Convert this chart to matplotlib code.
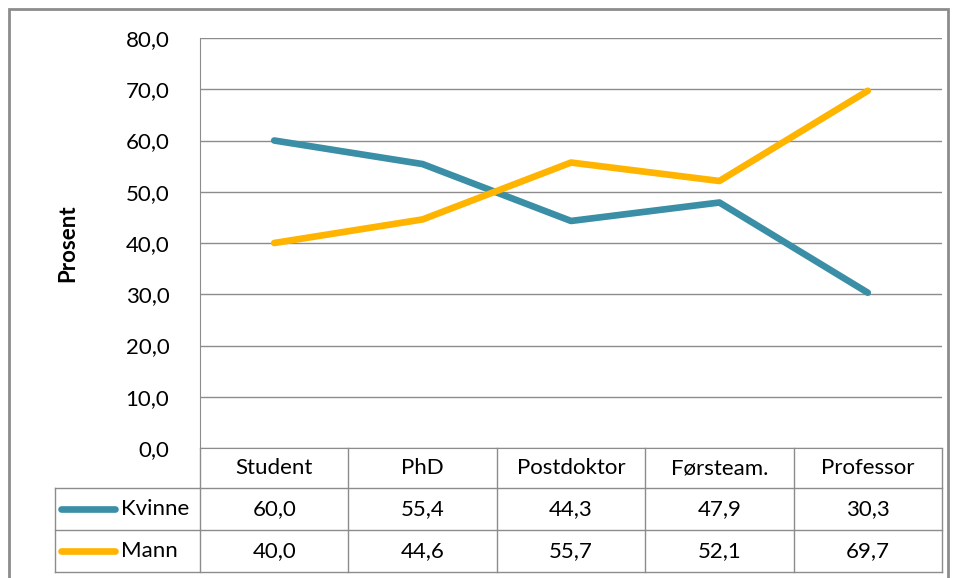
import matplotlib.pyplot as plt
from matplotlib.patches import Rectangle

plt.rcParams['font.family'] = ['Lato', 'DejaVu Sans']

categories = ['Student', 'PhD', 'Postdoktor', 'Førsteam.', 'Professor']
kvinne = [60.0, 55.4, 44.3, 47.9, 30.3]
mann = [40.0, 44.6, 55.7, 52.1, 69.7]
yticks = [0, 10, 20, 30, 40, 50, 60, 70, 80]

teal = '#3A8FA6'
amber = '#FFB400'
grid = '#8C8C8C'
fs = 16

def fmt(v):
    return ('%.1f' % v).replace('.', ',')

W, H = 958, 578
fig = plt.figure(figsize=(W / 100, H / 100), dpi=100)

# outer chart frame
fig.add_artist(Rectangle((9 / W, -0.05), 939 / W, 1 - 9 / H + 0.05,
                         transform=fig.transFigure, fill=False,
                         edgecolor='#8C8C8C', linewidth=2))

L, R, T, B = 200, 942, 38, 448
ax = fig.add_axes([L / W, 1 - B / H, (R - L) / W, (B - T) / H])
x = list(range(len(categories)))
ax.plot(x, kvinne, color=teal, linewidth=4.8, solid_capstyle='round', solid_joinstyle='round')
ax.plot(x, mann, color=amber, linewidth=4.8, solid_capstyle='round', solid_joinstyle='round')
ax.set_xlim(-0.5, len(categories) - 0.5)
ax.set_ylim(0, 80)
ax.set_yticks(yticks)
ax.set_yticklabels([fmt(v) for v in yticks], fontsize=fs)
ax.tick_params(axis='y', length=0, pad=22)
ax.set_xticks([])
ax.grid(axis='y', color=grid, linewidth=1)
for s in ax.spines.values():
    s.set_color(grid)
ax.spines['top'].set_visible(False)
ax.spines['right'].set_visible(False)
ax.set_ylabel('Prosent', fontsize=fs, fontweight='bold', labelpad=34)

# data table below the plot
TL, TB = 55, 572
tax = fig.add_axes([TL / W, 1 - TB / H, (R - TL) / W, (TB - B) / H])
tax.set_xlim(TL, R)
tax.set_ylim(TB, B)
tax.axis('off')
colw = (R - L) / len(categories)
rows = [B, 488, 530, TB]
for i in range(len(categories) + 1):
    xx = L + i * colw
    tax.plot([xx, xx], [B, TB], color=grid, linewidth=1, clip_on=False)
tax.plot([TL, TL], [rows[1], TB], color=grid, linewidth=1, clip_on=False)
for yy in rows[1:]:
    tax.plot([TL, R], [yy, yy], color=grid, linewidth=1, clip_on=False)

for i, c in enumerate(categories):
    cx = L + (i + 0.5) * colw
    tax.text(cx, (rows[0] + rows[1]) / 2, c, ha='center', va='center', fontsize=fs)
    tax.text(cx, (rows[1] + rows[2]) / 2, fmt(kvinne[i]), ha='center', va='center', fontsize=fs)
    tax.text(cx, (rows[2] + rows[3]) / 2, fmt(mann[i]), ha='center', va='center', fontsize=fs)

for (name, col), r in zip([('Kvinne', teal), ('Mann', amber)], [1, 2]):
    yc = (rows[r] + rows[r + 1]) / 2
    tax.plot([61, 115], [yc, yc], color=col, linewidth=4.8, solid_capstyle='round')
    tax.text(121, yc, name, ha='left', va='center', fontsize=fs)

fig.savefig('out.png', dpi=100)
